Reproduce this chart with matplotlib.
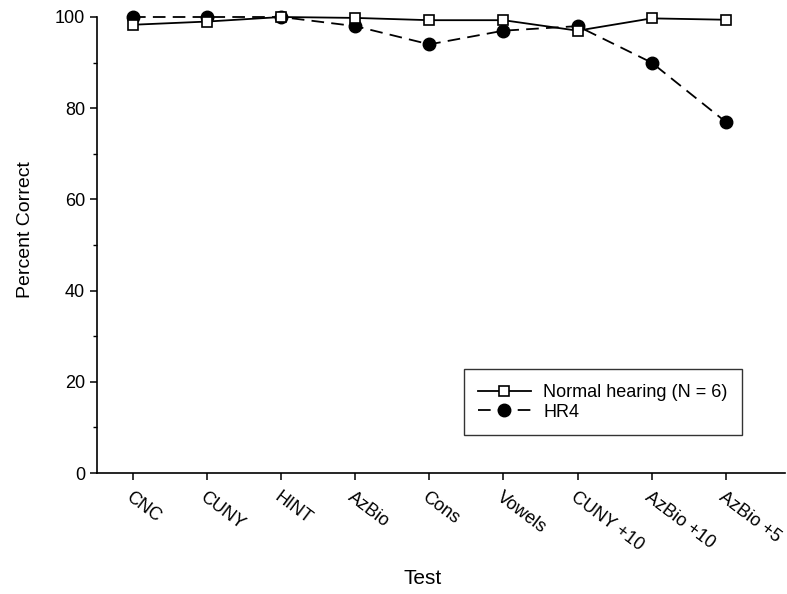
import matplotlib
matplotlib.use("Agg")
import matplotlib.pyplot as plt

plt.rcParams['font.family'] = ['Liberation Sans', 'DejaVu Sans']

tests = ["CNC", "CUNY", "HINT", "AzBio", "Cons", "Vowels", "CUNY +10", "AzBio +10", "AzBio +5"]
normal = [98.3, 99.0, 100.0, 99.8, 99.3, 99.3, 97.0, 99.7, 99.4]
hr4 = [100.0, 100.0, 100.0, 98.0, 94.0, 97.0, 98.0, 90.0, 77.0]

fig = plt.figure(figsize=(7.87, 5.94), dpi=100)
ax = fig.add_axes([97 / 787, 1 - 473 / 594, 688 / 787, 456 / 594])

x = list(range(len(tests)))
ax.plot(x, normal, color='black', lw=1.3, marker='s', markersize=7.5,
        markerfacecolor='white', markeredgecolor='black', markeredgewidth=1.2,
        label='Normal hearing (N = 6)', zorder=3, clip_on=False)
ax.plot(x, hr4, color='black', lw=1.3, ls=(0, (7, 4)), marker='o', markersize=9,
        markerfacecolor='black', label='HR4', zorder=2, clip_on=False)

ax.set_xlim(-0.486, 8.80)
ax.set_ylim(0, 100)
ax.spines['top'].set_visible(False)
ax.spines['right'].set_visible(False)
for s in ('left', 'bottom'):
    ax.spines[s].set_linewidth(1.2)

ax.set_xticks(x)
ax.set_xticklabels(tests, rotation=-37, ha='left', rotation_mode='anchor', fontsize=13)
ax.set_yticks([0, 20, 40, 60, 80, 100])
ax.set_yticks([10, 30, 50, 70, 90], minor=True)
ax.tick_params(axis='both', direction='out', length=5, width=1.1, labelsize=13)
ax.tick_params(axis='y', which='minor', length=3, width=1.0)
ax.tick_params(axis='x', pad=6)

ax.set_xlabel('Test', fontsize=15)
ax.xaxis.set_label_coords(0.474, -0.21)
ax.set_ylabel('Percent Correct', fontsize=14)
ax.yaxis.set_label_coords(-0.092, 0.533)

leg = ax.legend(loc='lower right', bbox_to_anchor=(0.9375, 0.0833), fontsize=13,
                handlelength=2.9, handletextpad=0.7, frameon=True, fancybox=False,
                borderpad=0.8, labelspacing=0.15, borderaxespad=0)
leg.get_frame().set_edgecolor('black')
leg.get_frame().set_linewidth(1.0)

fig.savefig('out.png', dpi=100)
